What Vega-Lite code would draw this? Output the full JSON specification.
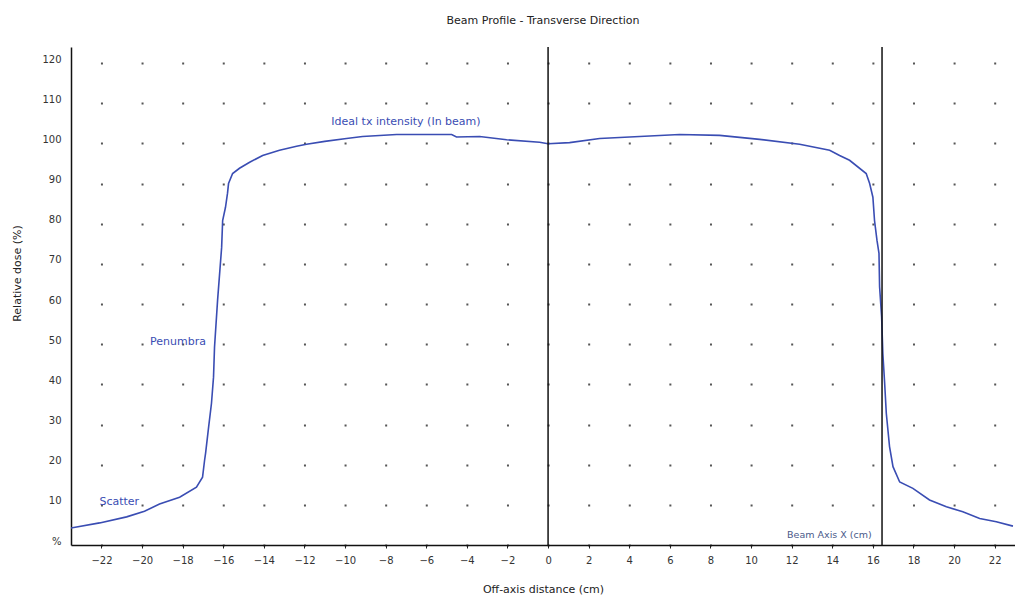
{
  "$schema": "https://vega.github.io/schema/vega-lite/v6.json",
  "width": 944,
  "height": 498,
  "autosize": {"type": "none"},
  "padding": {"left": 71, "top": 47, "right": 0, "bottom": 52},
  "background": "white",
  "config": {
    "view": {"stroke": null},
    "font": "DejaVu Sans"
  },
  "title": {
    "text": "Beam Profile - Transverse Direction",
    "fontSize": 11,
    "fontWeight": "normal",
    "color": "#222",
    "offset": 20,
    "anchor": "middle"
  },
  "layer": [
    {
      "data": {
        "values": [
          {"x": -23.52, "dose": 4.2},
          {"x": -22.09, "dose": 5.5},
          {"x": -20.76, "dose": 7.0},
          {"x": -19.88, "dose": 8.4},
          {"x": -19.14, "dose": 10.2},
          {"x": -18.15, "dose": 11.9},
          {"x": -17.32, "dose": 14.4},
          {"x": -17.02, "dose": 16.9},
          {"x": -16.92, "dose": 21.1},
          {"x": -16.87, "dose": 22.9},
          {"x": -16.72, "dose": 29.4},
          {"x": -16.58, "dose": 35.3},
          {"x": -16.48, "dose": 41.8},
          {"x": -16.43, "dose": 49.3},
          {"x": -16.28, "dose": 60.9},
          {"x": -16.08, "dose": 74.1},
          {"x": -16.03, "dose": 80.8},
          {"x": -15.89, "dose": 84.1},
          {"x": -15.79, "dose": 87.6},
          {"x": -15.74, "dose": 90.0},
          {"x": -15.54, "dose": 92.5},
          {"x": -15.2, "dose": 93.8},
          {"x": -14.7, "dose": 95.3},
          {"x": -14.06, "dose": 97.0},
          {"x": -13.23, "dose": 98.3},
          {"x": -12.39, "dose": 99.3},
          {"x": -11.9, "dose": 99.8},
          {"x": -11.0, "dose": 100.5},
          {"x": -9.93, "dose": 101.2},
          {"x": -9.14, "dose": 101.7},
          {"x": -7.46, "dose": 102.2},
          {"x": -4.75, "dose": 102.2},
          {"x": -4.51, "dose": 101.6},
          {"x": -3.37, "dose": 101.7},
          {"x": -2.04, "dose": 100.9},
          {"x": -0.42, "dose": 100.3},
          {"x": 0.0, "dose": 99.9},
          {"x": 1.06, "dose": 100.2},
          {"x": 2.54, "dose": 101.2},
          {"x": 4.51, "dose": 101.7},
          {"x": 6.48, "dose": 102.2},
          {"x": 8.45, "dose": 102.0},
          {"x": 10.42, "dose": 101.0},
          {"x": 12.39, "dose": 99.8},
          {"x": 13.87, "dose": 98.3},
          {"x": 14.36, "dose": 97.0},
          {"x": 14.85, "dose": 95.8},
          {"x": 15.67, "dose": 92.5},
          {"x": 15.84, "dose": 90.0},
          {"x": 16.0, "dose": 86.6},
          {"x": 16.08, "dose": 80.8},
          {"x": 16.2, "dose": 75.9},
          {"x": 16.3, "dose": 72.6},
          {"x": 16.33, "dose": 64.3},
          {"x": 16.43, "dose": 56.8},
          {"x": 16.49, "dose": 47.7},
          {"x": 16.58, "dose": 40.2},
          {"x": 16.66, "dose": 32.8},
          {"x": 16.82, "dose": 24.5},
          {"x": 16.99, "dose": 19.5},
          {"x": 17.32, "dose": 15.7},
          {"x": 17.97, "dose": 14.1},
          {"x": 18.79, "dose": 11.2},
          {"x": 19.62, "dose": 9.5},
          {"x": 20.43, "dose": 8.3},
          {"x": 21.26, "dose": 6.6},
          {"x": 22.08, "dose": 5.8},
          {"x": 22.9, "dose": 4.7}
        ]
      },
      "mark": {"type": "line", "color": "#3a4db3", "strokeWidth": 1.6, "clip": true},
      "encoding": {
        "x": {
          "field": "x",
          "type": "quantitative",
          "scale": {"domain": [-23.5, 23], "nice": false, "zero": false},
          "axis": {
            "title": "Off-axis distance (cm)",
            "titleFontSize": 11,
            "titleFontWeight": "normal",
            "titleColor": "#222",
            "titlePadding": 18,
            "values": [-22, -20, -18, -16, -14, -12, -10, -8, -6, -4, -2, 0, 2, 4, 6, 8, 10, 12, 14, 16, 18, 20, 22],
            "labelFontSize": 10,
            "labelColor": "#333",
            "labelPadding": 7,
            "labelFlush": false,
            "labelOverlap": false,
            "tickSize": 3,
            "tickColor": "#222",
            "domainColor": "#111",
            "domainWidth": 1.5,
            "grid": false
          }
        },
        "y": {
          "field": "dose",
          "type": "quantitative",
          "scale": {"domain": [0, 124], "nice": false},
          "axis": {
            "title": "Relative dose (%)",
            "titleFontSize": 11,
            "titleFontWeight": "normal",
            "titleColor": "#222",
            "titleX": -54,
            "titleY": 226,
            "titleAlign": "center",
            "titleBaseline": "middle",
            "titleAngle": 270,
            "values": [0, 10, 20, 30, 40, 50, 60, 70, 80, 90, 100, 110, 120],
            "labelExpr": "datum.value == 0 ? '%' : datum.label",
            "labelFontSize": 10,
            "labelColor": "#333",
            "labelPadding": 10,
            "labelOffset": -4,
            "ticks": false,
            "domainColor": "#111",
            "domainWidth": 1.5,
            "grid": true,
            "gridColor": "#555",
            "gridWidth": 2,
            "gridDash": [2, 38.602],
            "gridDashOffset": 11.152
          }
        }
      }
    },
    {
      "data": {"values": [{}]},
      "mark": {"type": "rule", "color": "#111", "strokeWidth": 1.5},
      "encoding": {"x": {"datum": 0}}
    },
    {
      "data": {"values": [{}]},
      "mark": {"type": "rule", "color": "#111", "strokeWidth": 1.5},
      "encoding": {"x": {"datum": 16.45}}
    },
    {
      "data": {"values": [{}]},
      "mark": {"type": "text", "text": "Ideal tx intensity (In beam)", "color": "#3a4db3", "fontSize": 11, "align": "center", "baseline": "middle"},
      "encoding": {"x": {"datum": -7.0}, "y": {"datum": 105.3}}
    },
    {
      "data": {"values": [{}]},
      "mark": {"type": "text", "text": "Penumbra", "color": "#3a4db3", "fontSize": 11, "align": "right", "baseline": "middle"},
      "encoding": {"x": {"datum": -16.85}, "y": {"datum": 50.5}}
    },
    {
      "data": {"values": [{}]},
      "mark": {"type": "text", "text": "Scatter", "color": "#3a4db3", "fontSize": 11, "align": "left", "baseline": "middle"},
      "encoding": {"x": {"datum": -22.1}, "y": {"datum": 10.8}}
    },
    {
      "data": {"values": [{}]},
      "mark": {"type": "text", "text": "Beam Axis X (cm)", "color": "#4a5a8a", "fontSize": 9.5, "align": "right", "baseline": "middle"},
      "encoding": {"x": {"datum": 15.94}, "y": {"datum": 2.5}}
    }
  ]
}
